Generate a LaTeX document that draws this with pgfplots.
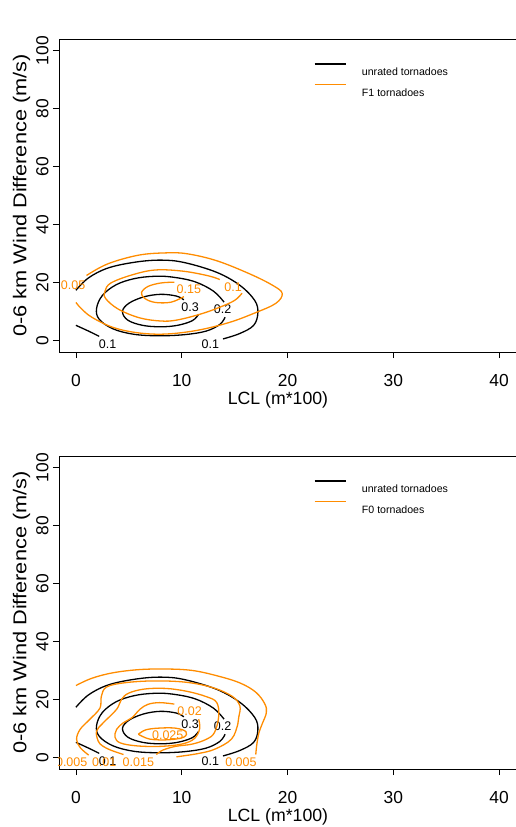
\documentclass[border=0pt]{standalone}
\usepackage{fontspec}
\setmainfont{Liberation Sans}
\usepackage{graphicx}
\usepackage{pgfplots}
\pgfplotsset{compat=1.18}
\definecolor{dorange}{RGB}{255,140,0}
\tikzset{clab/.style={font=\fontsize{12.5}{14}\selectfont, inner sep=0pt, anchor=center}}
\pgfplotsset{
  rpanel/.style={
    width=457pt, height=313pt, scale only axis,
    xmin=-1.6, xmax=41.6, ymin=-4, ymax=104,
    xtick={0,10,20,30,40}, ytick={0,20,40,60,80,100},
    tick align=outside, major tick length=6pt,
    xtick pos=bottom, ytick pos=left,
    every tick/.style={black, line width=0.8pt},
    axis line style={black, line width=0.8pt},
    /pgf/number format/assume math mode=true,
    ticklabel style={font=\fontsize{17.4}{20}\selectfont},
    xticklabel style={anchor=base, yshift=-28pt},
    yticklabel style={xshift=-4.7pt, rotate=90, anchor=base},
    legend cell align=left,
    legend image code/.code={\draw[##1, line width=1.3pt] (0pt,7.5pt) -- (31pt,7.5pt);},
    legend style={at={(axis cs:22.5,95.6)}, anchor=north west, draw=none, fill=none,
      inner sep=0pt, outer sep=0pt, row sep=8.2pt,
      font=\fontsize{10.6}{12}\selectfont,
      nodes={inner sep=0pt, text height=8.2pt, text depth=0pt},
      /tikz/every odd column/.style={column sep=15.7pt}},
  },
  ct/.style={line width=1.3pt, smooth, tension=0.6},
}
\newcommand{\blackcontours}{%
  \addplot[black, ct] coordinates {(0,17.3) (1.2,21.6) (3.05,25.0) (5.6,27.0) (8.0,27.7) (10.2,26.9) (13.3,23.5) (15.5,19.0) (16.9,13.8) (17.2,9.5) (16.8,5.2) (15.5,2.4) (13.9,0.5)};
  \addplot[black, ct] coordinates {(0,5.2) (1.2,3.2) (2.2,1.4)};
  \addplot[black, ct] coordinates {(14.0,13.2) (13.0,17.0) (11.2,20.3) (9.0,21.9) (7.3,22.1) (5.5,21.3) (3.8,19.2) (2.5,15.5) (1.95,11.0) (2.2,7.3) (3.5,4.0) (5.5,2.1) (7.9,1.6) (10.3,2.0) (12.3,3.2) (13.6,5.5) (14.1,8.0)};
  \addplot[black, ct] coordinates {(11.6,9.0) (11.0,6.8) (9.6,5.2) (8.0,4.7) (6.3,5.2) (4.9,7.0) (4.4,10.0) (5.0,12.8) (6.4,15.0) (8.0,15.9) (9.5,15.3) (10.2,14.0)};
  \node[clab, black] at (axis cs:10.8,11.45) {0.3};
  \node[clab, black] at (axis cs:13.87,10.9) {0.2};
}
\begin{document}
\begin{tikzpicture}
\useasboundingbox (-59pt,-475pt) rectangle (456pt,352pt);
% ---------- panel a ----------
\begin{axis}[rpanel, name=A, at={(0pt,0pt)}, anchor=south west]
\addlegendimage{black}
\addlegendimage{dorange}
\legend{unrated tornadoes, F1 tornadoes}
\blackcontours
\node[clab, black] at (axis cs:3.0,-1.2) {0.1};
\node[clab, black] at (axis cs:12.7,-1.2) {0.1};
% F1 contours
\addplot[dorange, ct] coordinates {(1.0,22.4) (3.0,26.4) (5.9,29.4) (8.5,30.2) (10.5,29.9) (13.3,27.5) (16.4,23.0) (18.6,19.0) (19.5,16.2) (18.9,12.8) (17.0,9.6) (14.5,6.2) (11.5,3.5) (8.5,2.2) (5.9,2.6) (3.5,4.5) (1.5,8.0) (0.5,11.0) (0,13.1)};
\addplot[dorange, ct] coordinates {(15.7,16.3) (15.0,13.8) (13.5,11.3) (11.7,9.0) (9.5,7.0) (8.0,6.7) (6.0,7.8) (4.0,10.8) (2.8,14.5) (2.75,17.0) (3.3,19.8) (5.3,22.6) (7.5,24.3) (10.1,23.9) (12.5,22.3) (13.6,21.0)};
\addplot[dorange, ct] coordinates {(10.2,15.1) (9.0,13.2) (7.5,13.1) (6.5,14.5) (6.2,16.5) (6.8,18.6) (8.0,19.8) (9.3,20.1)};
\node[clab, text=dorange] at (axis cs:-0.27,19.1) {0.05};
\node[clab, text=dorange] at (axis cs:10.67,17.7) {0.15};
\node[clab, text=dorange] at (axis cs:14.85,18.5) {0.1};
\node[anchor=base west, font=\fontsize{12.4}{14}\selectfont, inner sep=0pt] at (rel axis cs:0.8228,1.0527) {a)};
\end{axis}
% ---------- panel b ----------
\begin{axis}[rpanel, name=B, at={(0pt,-417pt)}, anchor=south west]
\addlegendimage{black}
\addlegendimage{dorange}
\legend{unrated tornadoes, F0 tornadoes}
\blackcontours
\node[clab, black] at (axis cs:3.0,-1.35) {0.1};
\node[clab, black] at (axis cs:12.7,-1.35) {0.1};
% F0 contours
\addplot[dorange, ct] coordinates {(0,24.8) (1.5,27.3) (3.5,29.2) (6.0,30.3) (8.6,30.5) (11.0,30.0) (13.3,28.2) (15.5,25.7) (17.0,22.5) (17.85,18.5) (18.0,15.4) (17.6,11.5) (17.3,8.5) (17.1,4.5) (17.0,1.0)};
\addplot[dorange, ct] coordinates {(1.2,0.8) (0.4,3.4) (0.06,6.3) (0.4,9.7) (1.3,13.1) (2.27,17.0) (2.4,21.0) (2.9,24.3) (4.7,25.8) (7.5,26.4) (10.5,25.9) (13.0,24.0) (14.8,21.0) (15.5,17.7) (15.4,14.0) (15.3,11.4) (14.7,6.3) (13.1,2.8) (11.5,1.3) (9.5,0.2)};
\addplot[dorange, ct] coordinates {(4.5,1.0) (3.3,2.5) (2.5,4.0) (2.1,5.7) (1.95,9.1) (2.6,12.0) (3.85,16.6) (4.3,20.0) (5.0,22.2) (6.5,23.6) (8.5,23.8) (10.5,22.8) (12.3,21.0) (13.3,19.0) (13.5,14.3) (13.1,8.6) (12.35,6.3) (11.0,4.6) (9.4,3.8) (8.2,2.5) (7.6,1.0)};
\addplot[dorange, ct] coordinates {(11.6,13.2) (11.7,10.0) (11.2,6.5) (10.0,4.6) (7.9,3.8) (5.7,4.0) (4.2,5.0) (3.7,6.9) (3.85,9.7) (4.5,12.0) (5.3,13.7) (6.05,16.6) (6.8,18.3) (7.9,18.9) (9.3,18.4)};
\addplot[dorange, ct] coordinates {(5.9,8.0) (6.6,9.5) (7.8,10.1) (9.4,10.1) (10.4,8.9) (10.2,7.0) (8.8,6.1) (7.0,6.3) (5.9,8.0)};
\node[clab, text=dorange] at (axis cs:10.75,15.9) {0.02};
\node[clab, text=dorange] at (axis cs:8.68,7.8) {0.025};
\node[clab, text=dorange] at (axis cs:-0.4,-1.5) {0.005};
\node[clab, text=dorange] at (axis cs:2.67,-1.5) {0.01};
\node[clab, text=dorange] at (axis cs:5.9,-1.5) {0.015};
\node[clab, text=dorange] at (axis cs:15.6,-1.5) {0.005};
\node[anchor=base west, font=\fontsize{12.4}{14}\selectfont, inner sep=0pt] at (rel axis cs:0.8228,1.0527) {b)};
\end{axis}
% axis titles
\node[font=\fontsize{17.7}{20}\selectfont, inner sep=0pt] at ([xshift=-9.5pt, yshift=-48pt]A.south) {LCL (m*100)};
\node[font=\fontsize{17.7}{20}\selectfont, inner sep=0pt] at ([xshift=-9.5pt, yshift=-48pt]B.south) {LCL (m*100)};
\node[rotate=90, font=\fontsize{18.6}{20}\selectfont, inner sep=0pt] at ([xshift=-37.5pt]A.west) {\scalebox{1.17}[1]{0-6 km Wind Difference (m/s)}};
\node[rotate=90, font=\fontsize{18.6}{20}\selectfont, inner sep=0pt] at ([xshift=-37.5pt]B.west) {\scalebox{1.17}[1]{0-6 km Wind Difference (m/s)}};
\end{tikzpicture}
\end{document}
